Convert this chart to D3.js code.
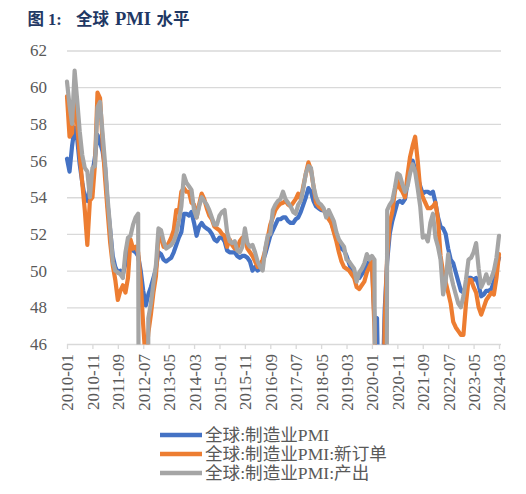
<!DOCTYPE html>
<html><head><meta charset="utf-8">
<script src="https://cdn.jsdelivr.net/npm/d3@7/dist/d3.min.js"></script>
<style>
html,body{margin:0;padding:0;background:#fff;}
svg{display:block;}
</style></head>
<body>
<svg id="chart" width="526" height="494"></svg>
<script>
// ---------- data ----------
const startMonth = "2010-01";
const monthCount = 171;
const tickLabels = ["2010-01","2010-11","2011-09","2012-07","2013-05","2014-03","2015-01","2015-11","2016-09","2017-07","2018-05","2019-03","2020-01","2020-11","2021-09","2022-07","2023-05","2024-03"];
const yTicks = [46,48,50,52,54,56,58,60,62];
const seriesNames = ["全球:制造业PMI","全球:制造业PMI:新订单","全球:制造业PMI:产出"];
const titleParts = ["图","1:","全球","PMI","水平"];

const pmi = [
56.1,55.4,56.8,57.8,57.2,55.8,54.8,54.0,53.8,54.6,55.3,56.2,
57.4,57.0,56.5,55.6,53.6,52.2,50.8,50.2,49.9,50.0,49.8,50.4,
51.0,51.2,51.1,51.0,50.8,50.0,48.9,48.1,48.7,49.1,49.6,50.1,
51.0,50.9,50.6,50.5,50.6,50.7,51.0,51.4,51.8,52.1,53.1,53.1,
53.0,53.2,52.6,51.9,52.4,52.6,52.4,52.3,52.2,52.0,51.7,51.6,
51.8,51.8,51.6,51.1,51.0,51.0,51.0,50.8,50.7,50.8,50.8,50.7,
50.5,50.0,50.2,50.0,50.1,50.5,50.9,51.4,51.9,52.2,52.5,52.8,
52.8,52.9,52.9,52.7,52.6,52.6,52.8,52.9,53.2,53.6,54.0,54.5,
54.3,53.8,53.5,53.4,53.3,53.3,53.1,53.0,52.6,52.2,51.9,51.5,
51.2,51.1,50.8,50.4,50.0,49.7,49.6,49.6,49.8,50.0,50.3,50.5,
50.5,47.3,47.4,39.6,42.4,47.8,50.5,52.0,52.7,53.2,53.7,53.8,
53.7,53.9,54.8,55.7,56.0,55.5,55.1,54.6,54.2,54.3,54.3,54.2,
54.3,53.7,52.9,52.4,52.3,52.0,51.2,50.6,50.4,49.9,49.4,48.9,
48.8,49.2,49.6,49.6,49.5,49.6,49.2,48.6,48.7,48.9,48.9,49.0,
49.4,50.2,50.7
];
const newOrders = [
59.5,57.3,57.5,59.7,58.0,56.3,54.8,53.3,51.4,53.8,54.0,55.8,
59.7,59.4,57.0,55.0,53.2,51.5,50.3,49.5,48.4,48.9,49.2,48.8,
49.6,51.7,51.2,51.3,51.0,49.4,47.0,45.0,46.6,47.6,48.8,49.7,
51.9,51.8,51.3,51.3,51.5,51.8,52.2,53.3,53.2,54.3,54.5,54.3,
54.3,53.7,53.6,52.9,53.6,54.2,53.9,53.4,53.0,52.8,52.4,52.3,
52.2,52.0,51.9,51.3,51.7,51.4,51.2,51.2,51.6,51.8,51.8,51.2,
51.0,50.8,50.5,50.2,50.3,50.6,51.1,51.8,52.5,52.9,53.3,53.5,
53.65,53.7,53.8,53.6,53.5,53.7,53.9,54.2,53.9,54.6,55.3,55.9,
55.5,54.6,53.7,53.5,53.4,53.3,53.1,52.8,52.6,52.1,51.6,51.0,
50.5,50.2,50.1,50.0,49.8,49.6,49.1,49.0,49.2,49.4,49.9,50.2,
50.5,46.8,42.0,30.0,36.0,47.0,50.8,52.6,53.2,54.3,54.9,54.5,
54.3,54.0,55.2,56.2,56.8,57.3,56.0,54.4,54.0,53.7,53.4,53.4,
53.5,53.7,52.8,50.8,49.9,49.4,48.8,48.2,47.2,46.9,46.7,46.5,
46.5,48.2,49.5,49.5,49.1,48.8,48.0,47.6,48.0,48.4,48.6,48.8,
48.7,49.6,50.9
];
const output = [
60.3,59.0,58.0,60.9,59.3,57.6,56.3,55.6,55.4,54.0,55.6,55.7,
58.9,59.2,57.5,55.8,53.9,52.3,50.5,50.0,49.9,49.8,49.6,51.0,
51.8,51.9,52.5,52.9,53.1,0,0,0,47.4,48.2,49.3,50.3,
52.3,52.2,51.6,51.2,51.3,51.4,51.6,52.0,52.7,53.5,55.2,54.8,
54.6,54.4,53.3,52.9,53.5,54.0,53.8,53.6,53.3,52.9,52.5,52.5,
53.0,53.2,53.3,52.1,51.6,51.5,51.6,51.1,51.0,51.3,52.3,51.5,
51.3,51.4,51.0,50.5,50.2,50.0,51.2,51.9,52.0,53.3,53.6,53.8,
53.9,54.3,53.9,53.7,53.5,53.2,53.1,53.6,53.8,54.5,55.3,55.7,
55.6,54.6,54.0,53.7,53.6,53.4,52.9,53.3,53.0,52.7,52.1,51.7,
51.5,51.3,50.6,50.5,50.3,50.1,49.4,49.9,50.1,50.4,50.9,50.6,
50.8,50.6,0,0,0,0,53.3,53.6,53.8,54.5,55.3,55.2,
54.7,54.3,54.6,55.3,55.8,55.4,54.5,53.5,51.8,51.9,51.6,52.6,
53.1,51.8,51.3,50.6,48.7,49.4,50.9,49.8,49.2,48.7,48.2,48.0,
48.6,49.5,50.6,50.7,51.0,51.5,50.1,49.1,49.4,49.8,49.3,49.6,
50.0,50.7,51.9
];
const colors = ["#4472C4","#ED7D31","#A5A5A5"];

// ---------- categories ----------
const fmt = d3.timeFormat("%Y-%m");
const startDate = d3.timeParse("%Y-%m")(startMonth);
const months = d3.range(monthCount).map(i => fmt(d3.timeMonth.offset(startDate, i)));

// ---------- layout ----------
const svg = d3.select("#chart");
const plotLeft = 67, plotRight = 499, plotTop = 50.5, plotBottom = 344;
const x = d3.scalePoint().domain(months).range([plotLeft, plotRight]);
const y = d3.scaleLinear().domain([46, 62]).range([plotBottom, plotTop]);
const serif = "'Liberation Serif','Times New Roman','Noto Sans CJK SC',serif";
const labelColor = "#595959";

svg.append("rect").attr("width",526).attr("height",494).attr("fill","#fff");

// title (segments placed as in the reference)
const titleX = [27.5, 48, 76, 115, 156.5];
const title = svg.append("text")
  .attr("y", 25)
  .attr("fill", "#1f3864")
  .attr("font-family", serif)
  .attr("font-weight", "bold")
  .attr("font-size", 16.5);
titleParts.forEach((t, i) => {
  const ts = title.append("tspan").attr("x", titleX[i]).text(t);
  if (t === "PMI") ts.attr("font-size", 18.5);
});

// gridlines
const grid = svg.append("g").attr("transform", `translate(${plotLeft},0)`)
  .call(d3.axisLeft(y).tickValues(yTicks.slice(1)).tickSize(-(plotRight - plotLeft + 2)).tickFormat(""));
grid.select(".domain").remove();
grid.selectAll("line").attr("stroke", "#d9d9d9").attr("stroke-width", 1.3);

// y labels
const yAxis = svg.append("g").attr("transform", `translate(${plotLeft},0)`)
  .call(d3.axisLeft(y).tickValues(yTicks).tickSize(0).tickPadding(20).tickFormat(d3.format("d")));
yAxis.select(".domain").remove();
yAxis.selectAll("text").attr("font-family", serif).attr("font-size", 17).attr("fill", labelColor);

// x axis
const xAxis = svg.append("g").attr("transform", `translate(0,${plotBottom})`)
  .call(d3.axisBottom(x).tickValues(tickLabels).tickSize(5).tickSizeOuter(0));
xAxis.select(".domain").attr("stroke", "#d9d9d9").attr("stroke-width", 1.3)
  .attr("d", `M${plotLeft},0.5H${plotRight + 2}`);
xAxis.selectAll(".tick line").attr("stroke", "#d9d9d9").attr("stroke-width", 1.3);
xAxis.selectAll(".tick text")
  .attr("font-family", serif).attr("font-size", 17).attr("fill", labelColor)
  .attr("transform", "rotate(-90)")
  .attr("text-anchor", "end")
  .attr("x", -10).attr("y", 0).attr("dy", "0.35em");

// clip
svg.append("clipPath").attr("id", "plotclip")
  .append("rect").attr("x", plotLeft - 10).attr("y", plotTop - 10)
  .attr("width", plotRight - plotLeft + 20).attr("height", plotBottom - plotTop + 10.5);

const line = d3.line().x((d, i) => x(months[i])).y(d => y(d));
const plot = svg.append("g").attr("clip-path", "url(#plotclip)");
[pmi, newOrders, output].forEach((s, k) => {
  plot.append("path").datum(s)
    .attr("fill", "none")
    .attr("stroke", colors[k])
    .attr("stroke-width", 4.2)
    .attr("stroke-linejoin", "round")
    .attr("stroke-linecap", "round")
    .attr("d", line);
});

// legend
const legend = svg.append("g");
const legendY = [435, 454, 473];
seriesNames.forEach((name, k) => {
  legend.append("line").attr("x1", 160).attr("x2", 202)
    .attr("y1", legendY[k]).attr("y2", legendY[k])
    .attr("stroke", colors[k]).attr("stroke-width", 4.5);
  legend.append("text").attr("x", 205).attr("y", legendY[k]).attr("dy", "0.35em")
    .attr("font-family", serif).attr("font-size", 17.6).attr("fill", labelColor)
    .text(name);
});
</script>
</body></html>
